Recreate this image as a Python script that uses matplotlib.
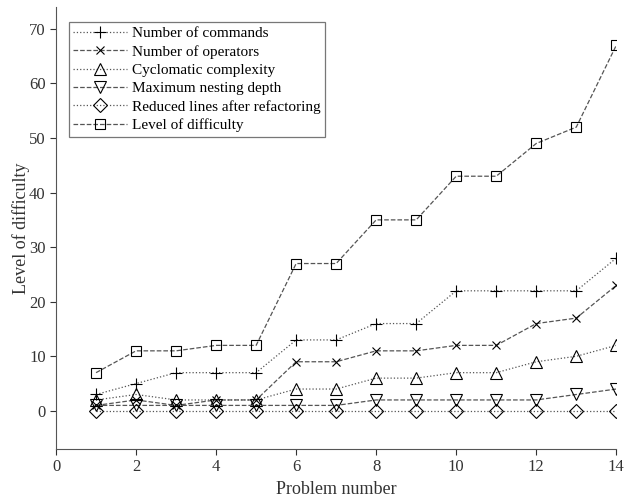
import matplotlib.pyplot as plt

plt.rcParams["font.family"] = ["Liberation Serif", "DejaVu Serif"]

problems = list(range(1, 15))
commands = [3, 5, 7, 7, 7, 13, 13, 16, 16, 22, 22, 22, 22, 28]
operators = [1, 2, 1, 2, 2, 9, 9, 11, 11, 12, 12, 16, 17, 23]
cyclomatic = [2, 3, 2, 2, 2, 4, 4, 6, 6, 7, 7, 9, 10, 12]
nesting = [1, 1, 1, 1, 1, 1, 1, 2, 2, 2, 2, 2, 3, 4]
reduced = [0, 0, 0, 0, 0, 0, 0, 0, 0, 0, 0, 0, 0, 0]
difficulty = [7, 11, 11, 12, 12, 27, 27, 35, 35, 43, 43, 49, 52, 67]

series = [
    ("Number of commands", commands, "+", ":", 9),
    ("Number of operators", operators, "x", "--", 6),
    ("Cyclomatic complexity", cyclomatic, "^", ":", 9),
    ("Maximum nesting depth", nesting, "v", "--", 9),
    ("Reduced lines after refactoring", reduced, "D", ":", 7),
    ("Level of difficulty", difficulty, "s", "--", 7),
]

fig = plt.figure(figsize=(6.26, 5.04), dpi=100)
ax = fig.add_axes([0.0895, 0.109, 0.895, 0.877])

for label, vals, mk, ls, ms in series:
    ax.plot(problems, vals, linestyle=ls, color="#555555", linewidth=0.9,
            marker=mk, markersize=ms, markerfacecolor="none",
            markeredgecolor="black", markeredgewidth=0.8, label=label)

ax.set_xlim(0, 14)
ax.set_ylim(-7, 74)
ax.set_xticks(range(0, 15, 2))
ax.set_yticks(range(0, 71, 10))
ax.spines["top"].set_visible(False)
ax.spines["right"].set_visible(False)
for s in ("left", "bottom"):
    ax.spines[s].set_color("#555555")
ax.tick_params(labelsize=12, colors="#333333", length=4, width=0.8)
ax.set_xlabel("Problem number", fontsize=13, color="#333333", labelpad=4)
ax.set_ylabel("Level of difficulty", fontsize=13, color="#333333", labelpad=-1)

leg = ax.legend(loc="upper left", bbox_to_anchor=(0.023, 0.966), borderaxespad=0,
                fontsize=11, numpoints=1, handlelength=3.5, frameon=True,
                fancybox=False, borderpad=0.3, labelspacing=0.3,
                handletextpad=0.33)
leg.get_frame().set_edgecolor("#555555")
leg.get_frame().set_linewidth(0.9)

fig.savefig("out.png", dpi=100)
